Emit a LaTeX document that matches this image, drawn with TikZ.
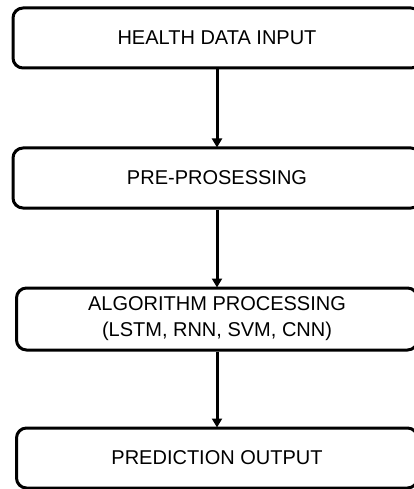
\documentclass[tikz,border=0pt]{standalone}
\usepackage{fontspec}
\setmainfont{Liberation Sans}
\usetikzlibrary{arrows.meta}
\tikzset{
  stepbox/.style={draw, line width=3pt, rounded corners=10pt, minimum height=60pt,
    align=center, font=\fontsize{20}{26}\selectfont, inner sep=0pt},
  flow/.style={line width=3pt, -{Triangle[width=10pt,length=9pt]}, shorten >=-1pt}
}
\begin{document}
\begin{tikzpicture}[x=1pt,y=1pt]
            \clip (0,0) rectangle (414,-489);
            \node[stepbox, minimum width=408pt] (input) at (217,-38){HEALTH DATA INPUT};
            \node[stepbox, minimum width=408pt] (prep) at (217,-178){PRE-PROSESSING};
            \node[stepbox, minimum width=401pt, minimum height=62pt] (algo) at (217,-319){ALGORITHM PROCESSING\\(LSTM, RNN, SVM, CNN)};
            \node[stepbox, minimum width=401pt] (output) at (217,-458){PREDICTION OUTPUT};
            \draw[flow] (input) -- (prep);
            \draw[flow] (prep) -- (algo);
            \draw[flow] (algo) -- (output);
        \end{tikzpicture}
\end{document}
